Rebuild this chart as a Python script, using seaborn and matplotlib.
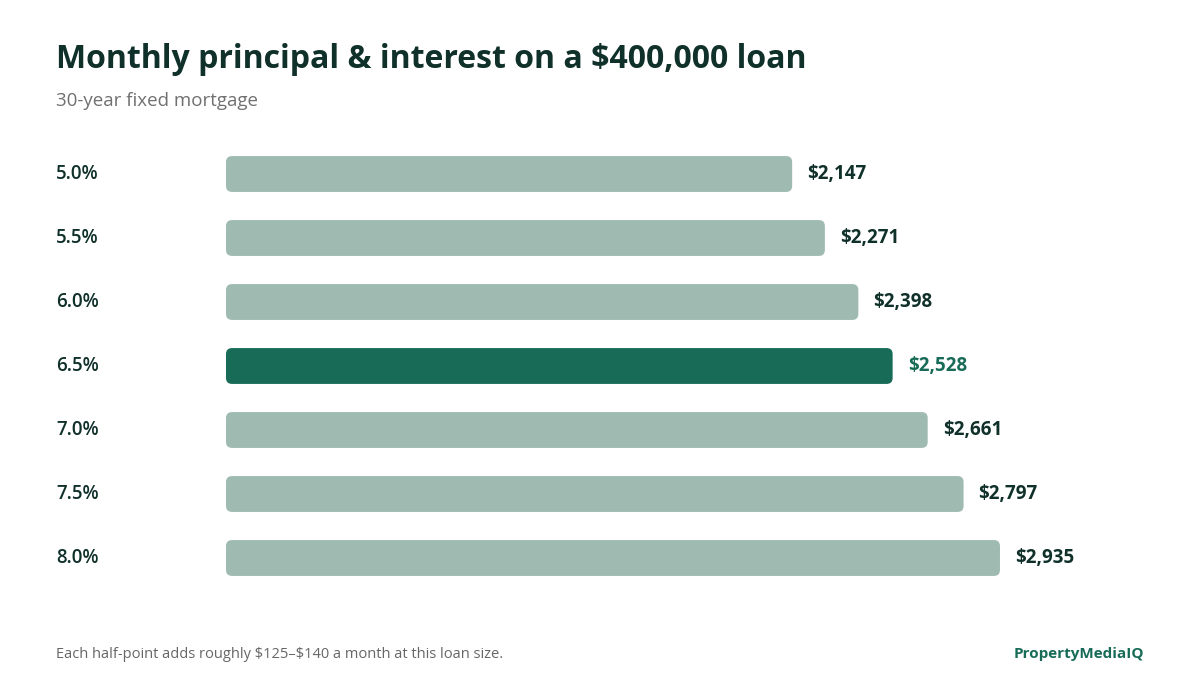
import matplotlib
matplotlib.use("Agg")
import matplotlib.pyplot as plt
import seaborn as sns
import pandas as pd
from matplotlib.patches import FancyBboxPatch

rates = ["5.0%", "5.5%", "6.0%", "6.5%", "7.0%", "7.5%", "8.0%"]
payments = [2147, 2271, 2398, 2528, 2661, 2797, 2935]
highlight = "6.5%"

sns.set_theme(style="white")
plt.rcParams['font.family'] = ['Open Sans', 'DejaVu Sans']
plt.rcParams['text.parse_math'] = False

light, dark_green, text_dark = "#9fbab0", "#176b57", "#10302a"
df = pd.DataFrame({"rate": rates, "pay": payments})
colors = [dark_green if r == highlight else light for r in rates]

fig = plt.figure(figsize=(12, 6.88), dpi=100)
ax = fig.add_axes([226/1200, 1-590/688, 914/1200, 448/688])
sns.barplot(data=df, y="rate", x="pay", hue="rate", palette=colors, legend=False,
            width=0.56, ax=ax, orient="h", saturation=1)
xmax = 914/0.2637
ax.set_xlim(0, xmax)
ax.set_ylim(len(rates)-0.5, -0.5)
xu = xmax/914
yu = len(rates)/448
for p in list(ax.patches):
    x, y, w, h = p.get_x(), p.get_y(), p.get_width(), p.get_height()
    fc = p.get_facecolor()
    p.remove()
    ax.add_patch(FancyBboxPatch((x, y), w, h, boxstyle=f"round,pad=0,rounding_size={6*xu}",
                                mutation_aspect=yu/xu, fc=fc, ec="none"))
for i, (r, v) in enumerate(zip(rates, payments)):
    c = dark_green if r == highlight else text_dark
    ax.text(v + 15*xu, i, f"${v:,}", va="center", ha="left", fontsize=13.5,
            fontweight="bold", color=c)
    fig.text(56/1200, 1-(174+64*i)/688, r, va="center", ha="left", fontsize=13.5,
             fontweight="semibold", color=text_dark)
ax.axis("off")

fig.text(56/1200, 1-60/688, "Monthly principal & interest on a $400,000 loan",
         fontsize=23, fontweight="bold", color=text_dark, va="center")
fig.text(56/1200, 1-101/688, "30-year fixed mortgage", fontsize=13.5, color="#707070", va="center")
fig.text(56/1200, 1-654/688, "Each half-point adds roughly $125–$140 a month at this loan size.",
         fontsize=10.5, color="#666666", va="center")
fig.text(1144/1200, 1-654/688, "PropertyMediaIQ", fontsize=11, fontweight="bold",
         color=dark_green, va="center", ha="right")
fig.savefig("out.png", dpi=100, facecolor="white")
